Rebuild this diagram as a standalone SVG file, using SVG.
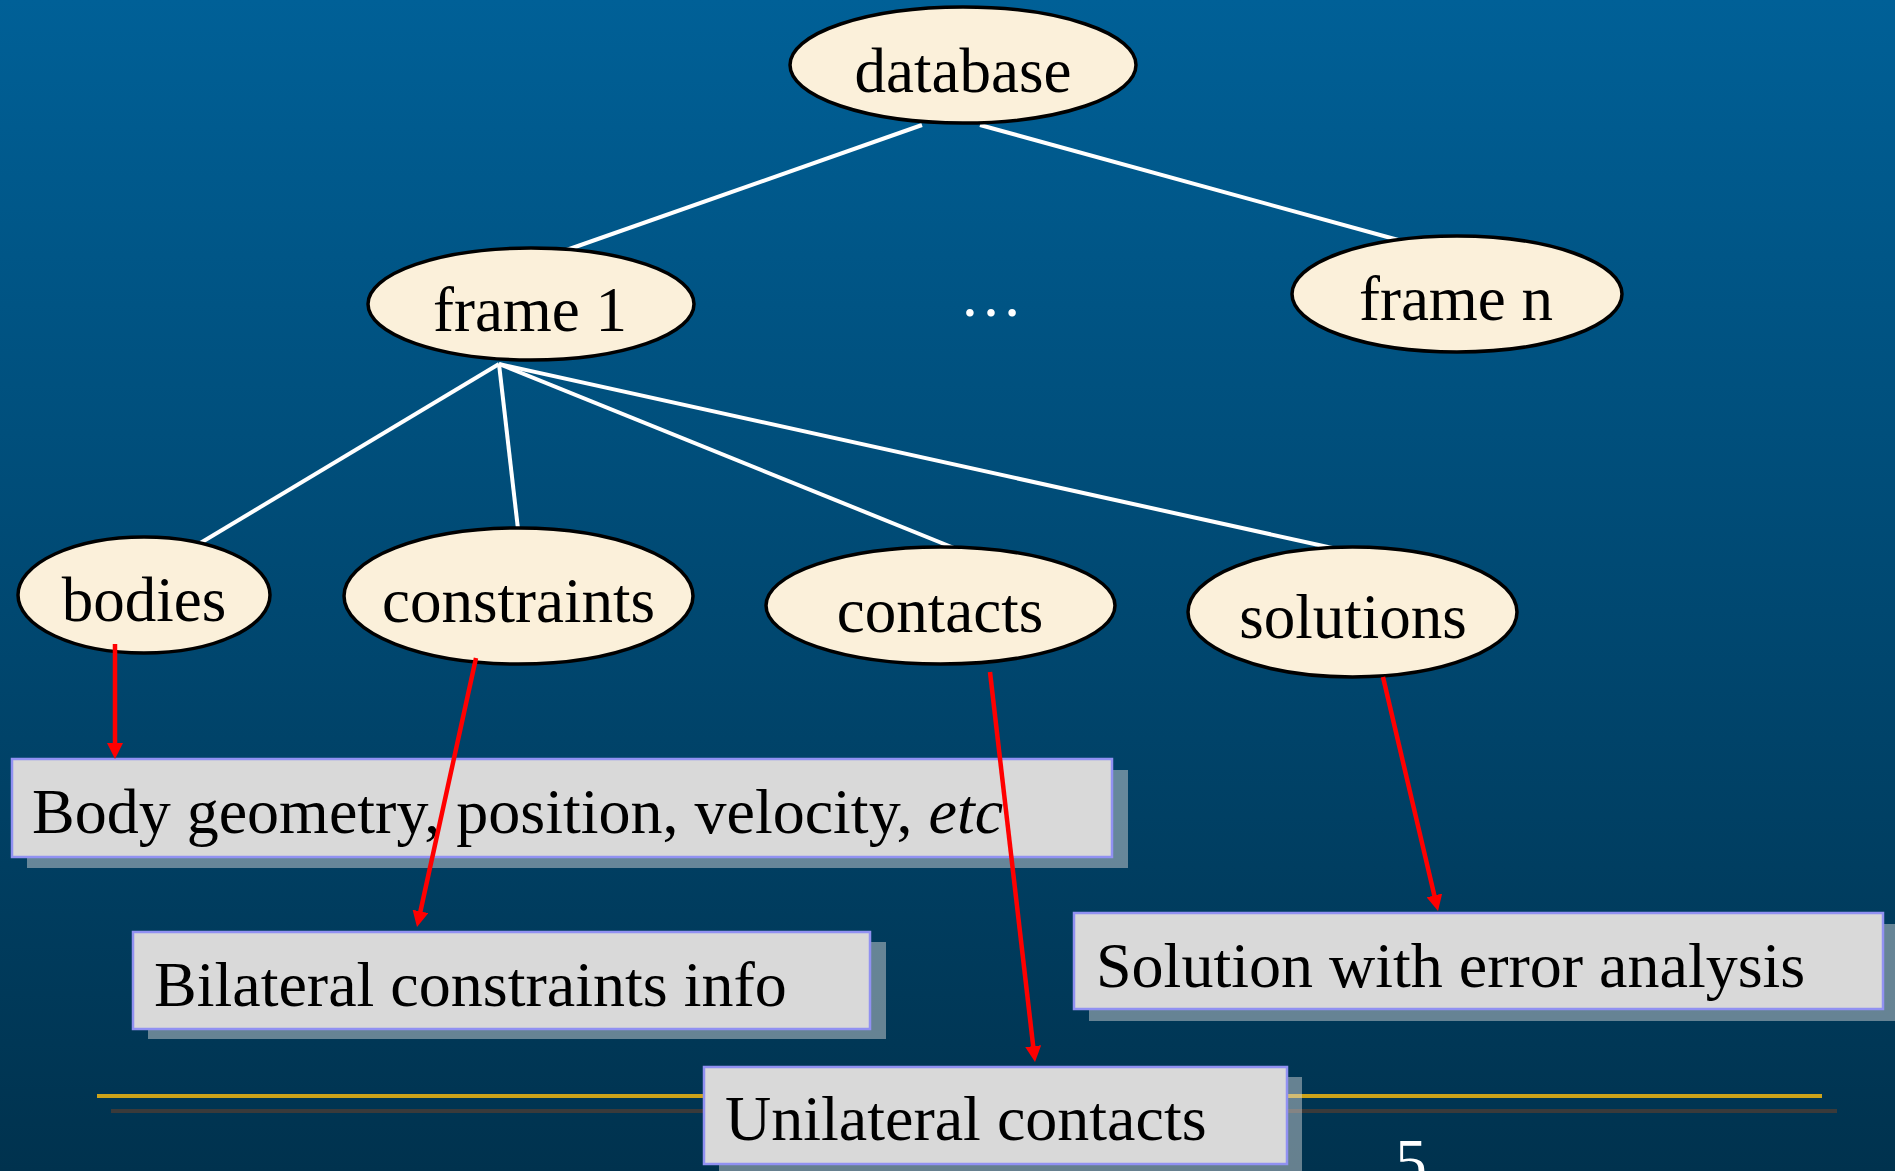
<svg xmlns="http://www.w3.org/2000/svg" width="1895" height="1171" viewBox="0 0 1895 1171">
<defs>
<linearGradient id="bg" x1="0" y1="0" x2="0" y2="1">
<stop offset="0" stop-color="#006097"/>
<stop offset="1" stop-color="#00324e"/>
</linearGradient>
<marker id="arr" viewBox="0 0 16 16" markerWidth="16" markerHeight="16" refX="8" refY="8" orient="auto" markerUnits="userSpaceOnUse">
<path d="M0,0 L16,8 L0,16 z" fill="#ff0000"/>
</marker>
<style>
.ell{fill:#fbf0da;stroke:#000;stroke-width:3.5}
.lbl{font-family:"Liberation Serif","Times New Roman",serif;font-size:63px;fill:#000;text-anchor:middle}
.box{fill:#d9d9d9;stroke:#9191f2;stroke-width:2.5}
.shd{fill:#d9d9d9;fill-opacity:0.47}
.btxt{font-family:"Liberation Serif","Times New Roman",serif;font-size:64px;fill:#000}
.wl{stroke:#fff;stroke-width:4;fill:none}
.rl{stroke:#ff0000;stroke-width:4.5;fill:none;marker-end:url(#arr)}
</style>
</defs>
<rect x="0" y="0" width="1895" height="1171" fill="url(#bg)"/>
<g id="footer">
<line x1="97" y1="1096" x2="1822" y2="1096" stroke="#cda31a" stroke-width="4"/>
<line x1="111" y1="1111" x2="1837" y2="1111" stroke="#3a3a3a" stroke-width="4"/>
</g>
<g id="connectors">
<line class="wl" x1="922" y1="125" x2="558" y2="253"/>
<line class="wl" x1="980" y1="125" x2="1402" y2="241"/>
<line class="wl" x1="499" y1="364" x2="192" y2="548"/>
<line class="wl" x1="499" y1="364" x2="518" y2="529"/>
<line class="wl" x1="499" y1="364" x2="959" y2="550"/>
<line class="wl" x1="499" y1="364" x2="1337" y2="549"/>
</g>
<g id="database"><ellipse class="ell" cx="963" cy="65" rx="173" ry="58"/><text class="lbl" x="963" y="92">database</text></g>
<g id="frame1"><ellipse class="ell" cx="531" cy="304" rx="163" ry="56"/><text class="lbl" x="530" y="331">frame 1</text></g>
<g id="dots"><text class="lbl" x="991" y="316" style="fill:#fff">…</text></g>
<g id="framen"><ellipse class="ell" cx="1457" cy="294" rx="165" ry="58"/><text class="lbl" x="1456" y="320">frame n</text></g>
<g id="bodies"><ellipse class="ell" cx="144" cy="595" rx="126" ry="58"/><text class="lbl" x="144" y="621">bodies</text></g>
<g id="constraints"><ellipse class="ell" cx="518.5" cy="596" rx="174.5" ry="68"/><text class="lbl" x="518.5" y="622">constraints</text></g>
<g id="contacts"><ellipse class="ell" cx="940.5" cy="605.5" rx="174.5" ry="58.5"/><text class="lbl" x="940" y="632">contacts</text></g>
<g id="solutions"><ellipse class="ell" cx="1352.5" cy="612" rx="164.5" ry="65"/><text class="lbl" x="1353" y="638">solutions</text></g>
<g id="box-body">
<rect class="shd" x="27" y="770" width="1101" height="98"/>
<rect class="box" x="12" y="759" width="1100" height="98"/>
<text class="btxt" x="32" y="833">Body geometry, position, velocity, <tspan font-style="italic">etc</tspan></text>
</g>
<g id="box-bilateral">
<rect class="shd" x="148" y="942" width="738" height="97"/>
<rect class="box" x="133" y="932" width="737" height="97"/>
<text class="btxt" x="154" y="1006">Bilateral constraints info</text>
</g>
<g id="box-unilateral">
<rect class="shd" x="719" y="1077" width="583" height="97"/>
<rect class="box" x="704" y="1067" width="583" height="97"/>
<text class="btxt" x="725" y="1140">Unilateral contacts</text>
</g>
<g id="box-solution">
<rect class="shd" x="1089" y="924" width="806" height="97"/>
<rect class="box" x="1074" y="913" width="809" height="96"/>
<text class="btxt" x="1096" y="987">Solution with error analysis</text>
</g>
<g id="arrows">
<line class="rl" x1="115" y1="644" x2="115" y2="751"/>
<line class="rl" x1="476" y1="658" x2="418.7" y2="919.2"/>
<line class="rl" x1="990" y1="672" x2="1034.1" y2="1054.1"/>
<line class="rl" x1="1383" y1="677" x2="1436.2" y2="903.2"/>
</g>
<text x="1411" y="1183" text-anchor="middle" style="font-family:'Liberation Serif','Times New Roman',serif;font-size:63px;fill:#fff">5</text>
</svg>
